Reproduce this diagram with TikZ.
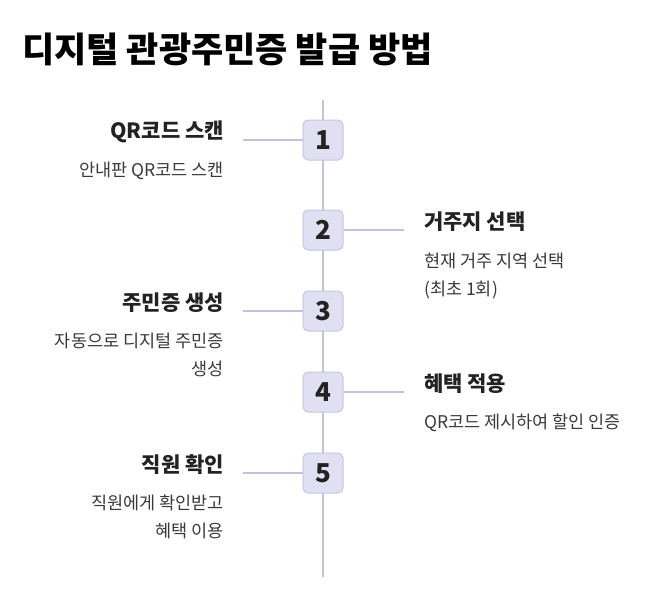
\documentclass[tikz,border=0pt]{standalone}
\usepackage{fontspec}
\setmainfont{Noto Sans CJK KR}
\usetikzlibrary{positioning}

\definecolor{linegray}{RGB}{194,194,216}
\definecolor{boxfill}{RGB}{224,224,242}
\definecolor{boxdraw}{RGB}{198,198,224}
\definecolor{headtext}{RGB}{34,34,34}
\definecolor{desctext}{RGB}{58,58,58}

\begin{document}
\begin{tikzpicture}[x=1pt, y=-1pt,
    stepnum/.style={rectangle, rounded corners=5pt, draw=boxdraw, fill=boxfill, line width=1pt,
        minimum width=40pt, minimum height=40pt, inner sep=0pt,
        font=\fontsize{26}{26}\selectfont\bfseries, text=headtext},
    heading/.style={inner sep=0pt, font=\fontsize{21}{24}\selectfont\bfseries, text=headtext},
    desc/.style={inner sep=0pt, font=\fontsize{17.5}{28}\selectfont, text=desctext},
    link/.style={draw=linegray, line width=1.3pt}
]
\useasboundingbox (0,0) rectangle (650,603);

% --- Titel ---
\node[anchor=base west, inner sep=0pt, font=\fontsize{35}{40}\selectfont\bfseries, text=black]
    (title) at (22,62) {디지털 관광주민증 발급 방법};

% --- Zeitachse ---
\coordinate (lineTop) at (323,100);
\coordinate (lineEnd) at (323,577);
\draw[link] (lineTop) -- (lineEnd);

% --- Schritte ---
\node[stepnum] (numScan) at (323,140) {1};
\node[stepnum] (numHome) at (323,230) {2};
\node[stepnum] (numMake) at (323,311) {3};
\node[stepnum] (numUse) at (323,392) {4};
\node[stepnum] (numCheck) at (323,473) {5};

% --- Links: 1, 3, 5 ---
\node[heading, anchor=east] (headScan) at (224,132) {QR코드 스캔};
\node[desc, anchor=north east, align=right] (descScan) at (224,162) {안내판 QR코드 스캔};
\coordinate (endScan) at (243,140);

\node[heading, anchor=east] (headMake) at (224,303) {주민증 생성};
\node[desc, anchor=north east, align=right] (descMake) at (224,333) {자동으로 디지털 주민증\\생성};
\coordinate (endMake) at (243,311);

\node[heading, anchor=east] (headCheck) at (224,465) {직원 확인};
\node[desc, anchor=north east, align=right] (descCheck) at (224,495) {직원에게 확인받고\\혜택 이용};
\coordinate (endCheck) at (243,473);

% --- Rechts: 2, 4 ---
\node[heading, anchor=west] (headHome) at (424,222) {거주지 선택};
\node[desc, anchor=north west, align=left] (descHome) at (424,253) {현재 거주 지역 선택\\(최초 1회)};
\coordinate (endHome) at (404,230);

\node[heading, anchor=west] (headUse) at (424,384) {혜택 적용};
\node[desc, anchor=north west, align=left] (descUse) at (424,414) {QR코드 제시하여 할인 인증};
\coordinate (endUse) at (404,392);

% --- Verbinder ---
\draw[link] (endScan) -- (numScan.west);
\draw[link] (endMake) -- (numMake.west);
\draw[link] (endCheck) -- (numCheck.west);
\draw[link] (numHome.east) -- (endHome);
\draw[link] (numUse.east) -- (endUse);

\end{tikzpicture}
\end{document}
